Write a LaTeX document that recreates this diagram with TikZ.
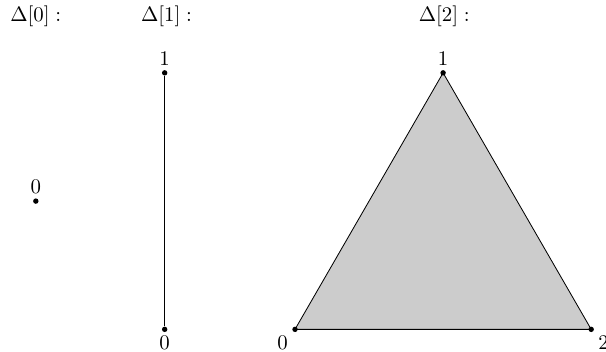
\documentclass[tikz,border=0pt]{standalone}
\usetikzlibrary{positioning,backgrounds}

\begin{document}
\begin{tikzpicture}[vertex/.style={circle,fill,inner sep=0pt,minimum size=2.6pt},
  label distance=-1.6pt]
\useasboundingbox (-4.98,-0.37) rectangle (5.25,5.56);
%titles
  \node (T0) at (-4.375,5.29) {$\Delta[0]:$};
  \node (T1) at (-2.17,5.29) {$\Delta[1]:$};
  \node (T2) at (2.52,5.29) {$\Delta[2]:$};
%Delta[0]
  \node[vertex, label=above:$0$] (p0) at (-4.375,2.165) {};
%Delta[1]
  \node[vertex, label=below:$0$] (a0) at (-2.2,0) {};
  \node[vertex, label=above:$1$] (a1) at (-2.2,4.33) {};
  \draw (a0) -- (a1);
%Delta[2]
  \node[vertex, label=below left:$0$] (b0) at (0,0) {};
  \node[vertex, label=above:$1$] (b1) at (2.5,4.33) {};
  \node[vertex, label=below right:$2$] (b2) at (5,0) {};
  \begin{scope}[on background layer]
    \filldraw[fill=black!20] (b0.center) -- (b1.center) -- (b2.center) -- cycle;
  \end{scope}
\end{tikzpicture}
\end{document}
